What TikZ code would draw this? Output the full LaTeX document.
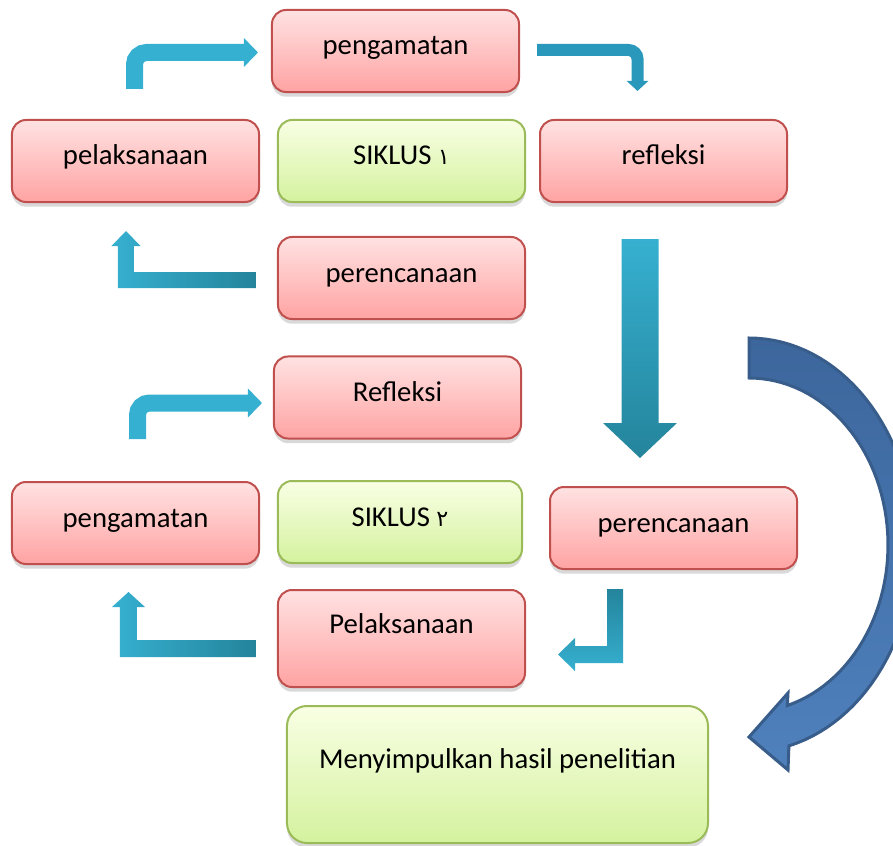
\documentclass[tikz,border=0pt]{standalone}
\usepackage{fontspec}
\setmainfont{Carlito}
\newfontfamily\arabicfont[Script=Arabic]{DejaVu Sans}
\TeXXeTstate=1
\usetikzlibrary{arrows.meta,calc,shadows}
\definecolor{pinktop}{RGB}{255,226,226}
\definecolor{pinkbot}{RGB}{255,163,163}
\definecolor{pinkline}{RGB}{192,80,77}
\definecolor{greentop}{RGB}{249,255,228}
\definecolor{greenbot}{RGB}{212,242,158}
\definecolor{greenline}{RGB}{155,187,89}
\definecolor{arrowlight}{RGB}{54,176,208}
\definecolor{arrowdark}{RGB}{36,132,156}
\definecolor{arrowmid}{RGB}{42,152,186}
\definecolor{curvetop}{RGB}{60,102,156}
\definecolor{curvebot}{RGB}{79,129,189}
\definecolor{curveline}{RGB}{56,93,138}
\begin{document}
\begin{tikzpicture}[x=0.03cm,y=-0.03cm,
	box/.style={rectangle,rounded corners=0.42cm,line width=0.06cm,minimum width=7.41cm,minimum height=2.46cm,inner sep=0pt,text height=0.6cm,text depth=0.36cm,font=\fontsize{24.5}{29}\selectfont,drop shadow={shadow xshift=0pt,shadow yshift=-4pt,opacity=0.3}},
	pinkbox/.style={box,draw=pinkline,top color=pinktop,bottom color=pinkbot},
	greenbox/.style={box,draw=greenline,top color=greentop,bottom color=greenbot},
	bluearrow/.style={draw=arrowlight,line width=0.51cm,rounded corners=0.36cm,-{Triangle[width=0.84cm,length=0.42cm]}}]
	\useasboundingbox (0,0) rectangle (893,846);
	\clip (0,0) rectangle (893,846);
	% siklus 1
	\node[pinkbox] (p1) at (395.5,51) {pengamatan};
	\node[pinkbox] (l1) at (135.5,161) {pelaksanaan};
	\node[greenbox] (s1) at (401.5,161) {SIKLUS {\arabicfont\fontsize{19}{22}\selectfont\beginR ١\endR}};
	\node[pinkbox] (r1) at (663.5,161) {refleksi};
	\node[pinkbox] (c1) at (401.5,278) {perencanaan};
	% siklus 2
	\node[pinkbox] (r2) at (397.5,397.5) {Refleksi};
	\node[pinkbox] (p2) at (135.5,523) {pengamatan};
	\node[greenbox,minimum width=7.32cm] (s2) at (400,522) {SIKLUS {\arabicfont\fontsize{19}{22}\selectfont\beginR ٢\endR}};
	\node[pinkbox] (c2) at (673.5,528) {perencanaan};
	\node[pinkbox,minimum height=2.91cm,text depth=0.9cm] (l2) at (401.5,638.5) {Pelaksanaan};
	\node[greenbox,minimum width=12.63cm,minimum height=4.11cm,rounded corners=0.6cm,text depth=0.99cm] (m) at (497.5,774.5) {Menyimpulkan hasil penelitian};
	% panah
	\draw[bluearrow] ($(l1.north)+(-1,-30)$) |- ($(p1.west)+(-13,1.5)$);
	\draw[draw=arrowmid,line width=0.36cm,rounded corners=0.27cm,-{Triangle[width=0.63cm,length=0.3cm]}] ($(p1.east)+(17,-1)$) -| ($(r1.north)+(-26,-28)$);
	\shade[left color=arrowlight,right color=arrowdark] ($(c1.west)+(-21,-6)$) -- ++(0,16) -- ++(-138,0) -- ++(0,-42) -- ++(-6.5,0) -- ++(14.5,-15) -- ++(14.5,15) -- ++(-6.5,0) -- ++(0,26) -- cycle;
	\shade[top color=arrowlight,bottom color=arrowdark] ($(r1.south)+(-42,36)$) -- ++(37,0) -- ++(0,184) -- ++(18.5,0) -- ++(-37,35) -- ++(-37,-35) -- ++(18.5,0) -- cycle;
	\draw[bluearrow] ($(p2.north)+(2,-42)$) |- ($(r2.west)+(-11,5.5)$);
	\shade[left color=arrowlight,right color=arrowdark] ($(l2.west)+(-21,1.5)$) -- ++(0,17) -- ++(-136,0) -- ++(0,-50) -- ++(-8,0) -- ++(16.5,-15) -- ++(16.5,15) -- ++(-8,0) -- ++(0,33) -- cycle;
	\shade[top color=arrowdark,bottom color=arrowlight] ($(c2.south)+(-66.5,19)$) -- ++(16,0) -- ++(0,74) -- ++(-48,0) -- ++(0,8) -- ++(-17,-16.5) -- ++(17,-16.5) -- ++(0,8) -- ++(32,0) -- cycle;
	% panah lengkung
	\draw[draw=curveline,line width=0.09cm,top color=curvetop,bottom color=curvebot] plot[domain=90:-76,samples=60] ({749+165*cos(\x)},{545-207*sin(\x)}) -- (788,770) -- (749,737) -- (788,693) -- plot[domain=-74:90,samples=60] ({749+139*cos(\x)},{545-167*sin(\x)}) -- cycle;
\end{tikzpicture}
\end{document}
